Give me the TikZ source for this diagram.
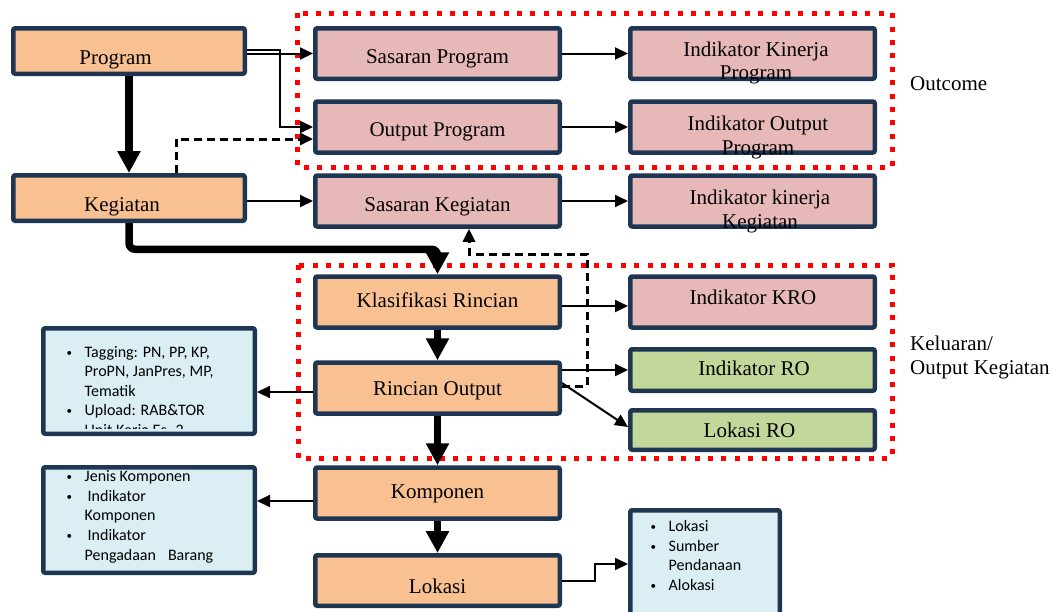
\documentclass[tikz,border=0pt]{standalone}
\usepackage{fontspec}
\setmainfont{Liberation Serif}
\newfontfamily\calib{Carlito}
\usetikzlibrary{arrows.meta,calc}
\definecolor{navy}{HTML}{1F3652}
\definecolor{orangef}{HTML}{F9C091}
\definecolor{pinkf}{HTML}{E6B8B7}
\definecolor{greenf}{HTML}{C4D79B}
\definecolor{bluef}{HTML}{DAEEF3}
\newcommand{\bx}[3]{\raisebox{#2}[14pt][5pt]{\hspace*{#1}#3}}
\newcommand{\bul}{\makebox[18pt][l]{\raisebox{1pt}{\fontsize{11}{11}\selectfont\textbullet}}}
\newcommand{\ind}{\hspace*{18pt}}
\tikzset{
  box/.style={draw=navy, line width=4.5pt, rounded corners=2pt, inner sep=0pt,
    minimum width=244.5pt, minimum height=51pt, font=\fontsize{21}{23.5}\selectfont},
  obox/.style={box, fill=orangef},
  pbox/.style={box, fill=pinkf},
  gbox/.style={box, fill=greenf},
  ibox/.style={draw=navy, line width=4.5pt, rounded corners=2pt, fill=bluef, inner sep=0pt,
    minimum width=211.5pt, minimum height=105.5pt},
  listtext/.style={inner sep=0pt, anchor=base west, font=\calib\fontsize{16}{19.6}\selectfont},
  thinarr/.style={draw, line width=2pt, -{Triangle[length=13pt,width=12pt]}},
  thickarr/.style={draw, line width=7.5pt, -{Triangle[length=22pt,width=22pt]}},
  dasharr/.style={draw, line width=3pt, dash pattern=on 8pt off 5pt, -{Triangle[length=13pt,width=12pt]}},
  reddot/.style={draw=red, line width=5pt, dash pattern=on 5pt off 8.4pt},
  sidelabel/.style={inner sep=0pt, anchor=base west, font=\fontsize{21}{23.3}\selectfont}
}
\begin{document}
\begin{tikzpicture}[x=1pt,y=-1pt]
\clip (0,0) rectangle (1052,611);
\fill[white] (0,0) rectangle (1052,611);

% red dotted groups
\draw[reddot] (297,13) rectangle (892,167);
\draw[reddot] (298,265) rectangle (892,458);

% boxes
\node[obox, minimum width=231.5pt, minimum height=45.5pt] (prog) at (129,51) {\bx{-27pt}{-8.5pt}{Program}};
\node[obox, minimum width=231.5pt, minimum height=45.5pt] (keg) at (129,198) {\bx{-14pt}{-8.5pt}{Kegiatan}};
\node[pbox, minimum height=50.5pt] (sasp) at (437.5,53.5) {\bx{0pt}{-5pt}{Sasaran Program}};
\node[pbox] (outp) at (437.5,127) {\bx{0pt}{-4.5pt}{Output Program}};
\node[pbox] (sask) at (437.5,201) {\bx{0pt}{-6.2pt}{Sasaran Kegiatan}};
\node[pbox, minimum height=50.5pt] (ikp) at (752.5,53.5) {\bx{7pt}{-21.7pt}{\begin{tabular}[b]{@{}c@{}}Indikator Kinerja\\Program\end{tabular}}};
\node[pbox] (iop) at (752.5,127) {\bx{11pt}{-22.5pt}{\begin{tabular}[b]{@{}c@{}}Indikator Output\\Program\end{tabular}}};
\node[pbox] (ikk) at (752.5,201) {\bx{15pt}{-22.8pt}{\begin{tabular}[b]{@{}c@{}}Indikator kinerja\\Kegiatan\end{tabular}}};
\node[obox] (klas) at (437.5,302) {\bx{0pt}{-0.8pt}{Klasifikasi Rincian}};
\node[obox] (rout) at (437.5,388) {\bx{0pt}{-3.2pt}{Rincian Output}};
\node[obox] (komp) at (437.5,493) {\bx{0pt}{-0.8pt}{Komponen}};
\node[obox, minimum height=50.5pt] (lok) at (437.5,580.5) {\bx{0pt}{-8.3pt}{Lokasi}};
\node[pbox] (ikro) at (752.5,302) {\bx{1pt}{2.5pt}{Indikator KRO}};
\node[gbox, minimum height=41.5pt] (iro) at (752.5,370) {\bx{3pt}{-0.5pt}{Indikator RO}};
\node[gbox, minimum height=39.5pt] (lro) at (752.5,430) {\bx{-6pt}{-2.8pt}{Lokasi RO}};

% info boxes
\node[ibox] (info1) at (149,381) {};
\node[ibox] (info2) at (149,520) {};
\node[ibox, minimum width=149.5pt, minimum height=107.5pt] (info3) at (705,564) {};

\begin{scope}
\clip (44,329) rectangle (254,428.5);
\node[listtext] (info1t) at (66.5,357) {\begin{tabular}[t]{@{}l@{}}
\bul Tagging: PN, PP, KP,\\
\ind ProPN, JanPres, MP,\\
\ind Tematik\\
\bul Upload: RAB\&TOR\\
\ind Unit Kerja Es. 2
\end{tabular}};
\end{scope}
\node[listtext] (info2t) at (66.5,481.7) {\begin{tabular}[t]{@{}l@{}}
\bul Jenis Komponen\\
\bul \hspace{3pt}Indikator\\
\ind Komponen\\
\bul \hspace{3pt}Indikator\\
\ind Pengadaan\hspace{12pt}Barang
\end{tabular}};
\node[listtext] (info3t) at (650.5,531.7) {\begin{tabular}[t]{@{}l@{}}
\bul Lokasi\\
\bul Sumber\\
\ind Pendanaan\\
\bul Alokasi
\end{tabular}};

% side labels
\node[sidelabel] (outcome) at (910,90.7) {Outcome};
\node[sidelabel] (keluaran) at (910,350.7) {\begin{tabular}[t]{@{}l@{}}Keluaran/\\Output Kegiatan\end{tabular}};

% connectors
\draw[thinarr] (prog.east |- sasp.west) -- (sasp.west);
\draw[thinarr] ([yshift=1pt]prog.east) -- ++(33,0) |- (outp.west);
\draw[dasharr] ([xshift=47pt]keg.north) |- ([yshift=-12pt]outp.west);
\draw[thickarr] (prog.south) -- (keg.north);
\draw[thinarr] (keg.east |- sask.west) -- (sask.west);
\draw[thinarr] (sasp) -- (ikp);
\draw[thinarr] (outp) -- (iop);
\draw[thinarr] (sask) -- (ikk);
\draw[thickarr, rounded corners=6pt] (keg.south) |- ($(klas.north)+(0,-25)$) -- (klas.north);
\draw[dasharr] ([yshift=2pt]rout.east) -- ++(25,0) -- ++(0,-132) -| ([xshift=31.5pt]sask.south);
\draw[thinarr] ([yshift=-4pt]klas.east) -- ([yshift=-4pt]ikro.west);
\draw[thinarr] (rout.east |- iro.west) -- (iro.west);
\draw[thinarr] ([yshift=5pt]rout.east) -- ([yshift=3pt]lro.west);
\draw[thickarr] (klas.south) -- (rout.north);
\draw[thickarr] (rout.south) -- (komp.north);
\draw[thickarr] (komp.south) -- (lok.north);
\draw[thinarr] ([yshift=-4pt]rout.west) -- ([yshift=-11pt]info1.east);
\draw[thinarr] ([yshift=-8pt]komp.west) -- ([yshift=19pt]info2.east);
\draw[thinarr] (lok.east) -- ++(33,0) |- (info3.west);
\end{tikzpicture}
\end{document}
